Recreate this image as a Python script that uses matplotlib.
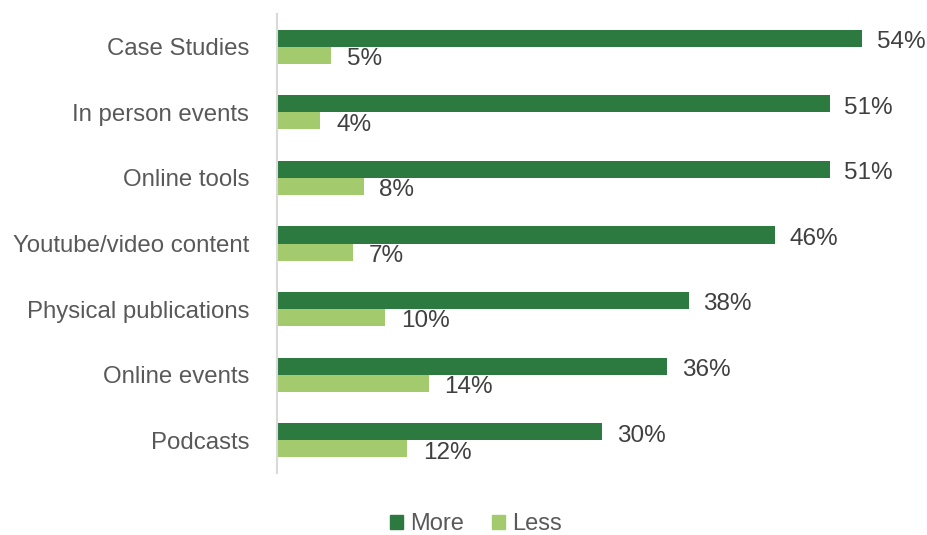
import matplotlib
matplotlib.use("Agg")
import matplotlib.pyplot as plt
import numpy as np
from matplotlib.patches import Patch

categories = ["Case Studies", "In person events", "Online tools", "Youtube/video content",
              "Physical publications", "Online events", "Podcasts"]
more = [54, 51, 51, 46, 38, 36, 30]
less = [5, 4, 8, 7, 10, 14, 12]

dark = "#2C7A3F"
light = "#A3CB6E"

plt.rcParams['font.family'] = ['Liberation Sans', 'DejaVu Sans']
fig = plt.figure(figsize=(9.27, 5.35), dpi=100)
ax = fig.add_axes([277/927, 1-473/535, 1-277/927, (473-14)/535])

y = np.arange(len(categories))
h = 0.26
ax.barh(y - h/2, more, height=h, color=dark, label="More")
ax.barh(y + h/2, less, height=h, color=light, label="Less")

off = 0.15
for yi, v in zip(y, more):
    ax.text(v + 1.35, yi - h/2 + off, f"{v}%", va="baseline", ha="left", fontsize=17.5, color="#404040")
for yi, v in zip(y, less):
    ax.text(v + 1.45, yi + h/2 + off, f"{v}%", va="baseline", ha="left", fontsize=17.5, color="#404040")

ax.set_xlim(0, 60)
ax.set_ylim(len(categories) - 0.5, -0.5)
ax.set_yticks(y)
ax.set_yticklabels(categories, fontsize=17.3, color="#595959")
ax.tick_params(axis="y", length=0, pad=20)
ax.set_xticks([])
for s in ["top", "right", "bottom"]:
    ax.spines[s].set_visible(False)
ax.spines["left"].set_color("#D9D9D9")
ax.spines["left"].set_linewidth(1.5)

handles = [Patch(color=dark, label="More"), Patch(color=light, label="Less")]
fig.legend(handles=handles, loc="center", bbox_to_anchor=(476/927, 1-524/535), ncol=2,
           frameon=False, fontsize=17, handlelength=0.55, handleheight=0.55,
           handletextpad=0.3, columnspacing=1.2, labelcolor="#595959")

fig.savefig("out.png", dpi=100)
